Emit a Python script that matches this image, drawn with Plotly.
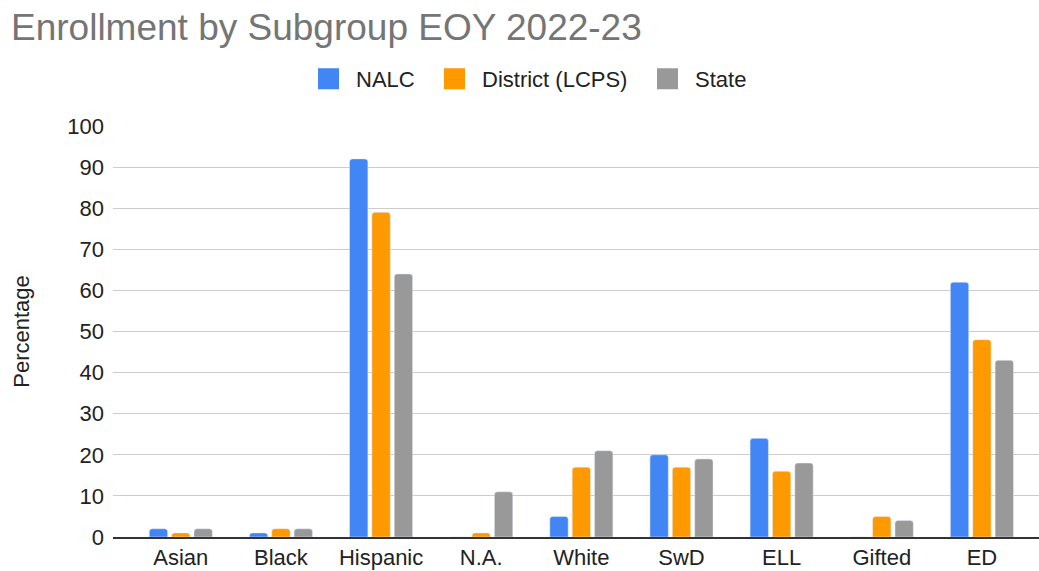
import plotly.graph_objects as go

categories = ["Asian", "Black", "Hispanic", "N.A.", "White", "SwD", "ELL", "Gifted", "ED"]
nalc = [2, 1, 92, 0, 5, 20, 24, 0, 62]
district = [1, 2, 79, 1, 17, 17, 16, 5, 48]
state = [2, 2, 64, 11, 21, 19, 18, 4, 43]
series_names = ["NALC", "District (LCPS)", "State"]
colors = ["#4285f4", "#ff9900", "#999999"]
y_ticks = [0, 10, 20, 30, 40, 50, 60, 70, 80, 90, 100]

FONT = "Arial, Liberation Sans, sans-serif"
legend_ids = ["legend", "legend2", "legend3"]
legend_x = [301, 427, 640]  # left position of each legend block, px
ITEMW = 45

fig = go.Figure()
for name, vals, col in zip(series_names, [nalc, district, state], colors):
    fig.add_bar(x=categories, y=vals, name=name, marker_color=col, showlegend=False)
for name, col, lid in zip(series_names, colors, legend_ids):
    fig.add_scatter(x=[None], y=[None], mode="markers", name=name, legend=lid,
                    marker=dict(symbol="square", size=16, color=col,
                                line=dict(width=5, color=col)))

legend_common = dict(orientation="h", xref="container", yref="container",
                     yanchor="middle", xanchor="left", itemwidth=ITEMW,
                     font=dict(family=FONT, size=22, color="#222222"),
                     bgcolor="rgba(0,0,0,0)")
legends = {}
for lid, lx in zip(legend_ids, legend_x):
    legends[lid] = dict(legend_common, x=lx / 1039, y=1 - 79 / 571)

fig.update_layout(
    width=1039, height=571,
    font=dict(family=FONT, size=22, color="#222222"),
    paper_bgcolor="white", plot_bgcolor="white",
    title=dict(text="Enrollment by Subgroup EOY 2022-23", x=11/1039, xref="container",
               y=1 - 14/571, yref="container", xanchor="left", yanchor="top",
               font=dict(family=FONT, size=37, color="#757575")),
    margin=dict(l=113, r=0, t=126, b=34),
    barmode="group", bargap=0.33, bargroupgap=0.18, barcornerradius=3,
    xaxis=dict(showgrid=False, showline=True, linecolor="#333333", linewidth=2,
               range=[-0.677, 8.57], ticks="", tickfont=dict(size=22), automargin=False),
    yaxis=dict(range=[0, 100], tickvals=y_ticks, showgrid=True, gridcolor="#cccccc",
               gridwidth=1, zeroline=False, ticks="", tickfont=dict(size=22),
               ticklabelstandoff=8, automargin=False,
               title=dict(text="Percentage", font=dict(size=22), standoff=31)),
    **legends,
)
fig.write_html("out.html", config={"displayModeBar": False},
               post_script="document.body.style.margin='0';document.body.style.overflow='hidden';")
